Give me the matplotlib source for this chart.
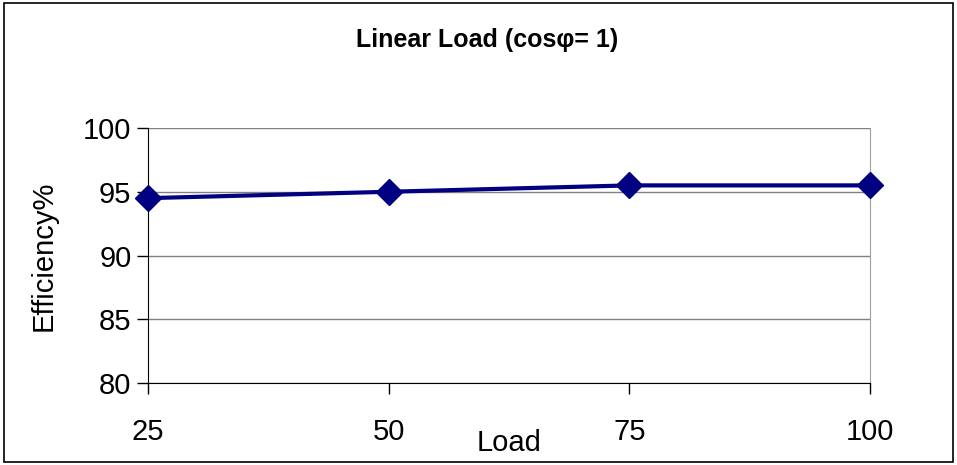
import matplotlib.pyplot as plt
from matplotlib.patches import Rectangle

plt.rcParams['font.family'] = ['Liberation Sans', 'DejaVu Sans']

# данные с графика
load = ['25', '50', '75', '100']
efficiency = [94.5, 95.0, 95.5, 95.5]
yticks = [80, 85, 90, 95, 100]

fig = plt.figure(figsize=(9.57, 4.65), dpi=100)
ax = fig.add_axes([0.1547, 0.1763, 0.9091 - 0.1547, 0.7247 - 0.1763])

x = range(len(load))
ax.plot(x, efficiency, color='#000080', lw=3, marker='D', ms=13, zorder=3, clip_on=False)

ax.set_xlim(0, len(load) - 1)
ax.set_ylim(80, 100)
ax.set_xticks(list(x))
ax.set_xticklabels(load)
ax.set_yticks(yticks)
ax.grid(axis='y', color='#808080', lw=1)
ax.tick_params(axis='both', labelsize=21, length=8, width=1, color='black', direction='out')
ax.tick_params(axis='x', pad=17)
ax.tick_params(axis='y', pad=4)

ax.spines['top'].set_visible(False)
ax.spines['right'].set_color('#a0a0a0')
ax.spines['left'].set_color('black')
ax.spines['bottom'].set_color('black')

ax.set_xlabel('Load', fontsize=21, labelpad=-12)
ax.set_ylabel('Efficiency%', fontsize=21, labelpad=18)

fig.text(0.509, 0.913, 'Linear Load (cos\u03c6= 1)', ha='center', va='center',
         fontsize=18, fontweight='bold')

# рамка вокруг всей картинки
fig.patches.append(Rectangle((0.004, 0.006), 0.992, 0.988, transform=fig.transFigure,
                             fill=False, edgecolor='black', lw=1.2))

fig.savefig('out.png', dpi=100)
